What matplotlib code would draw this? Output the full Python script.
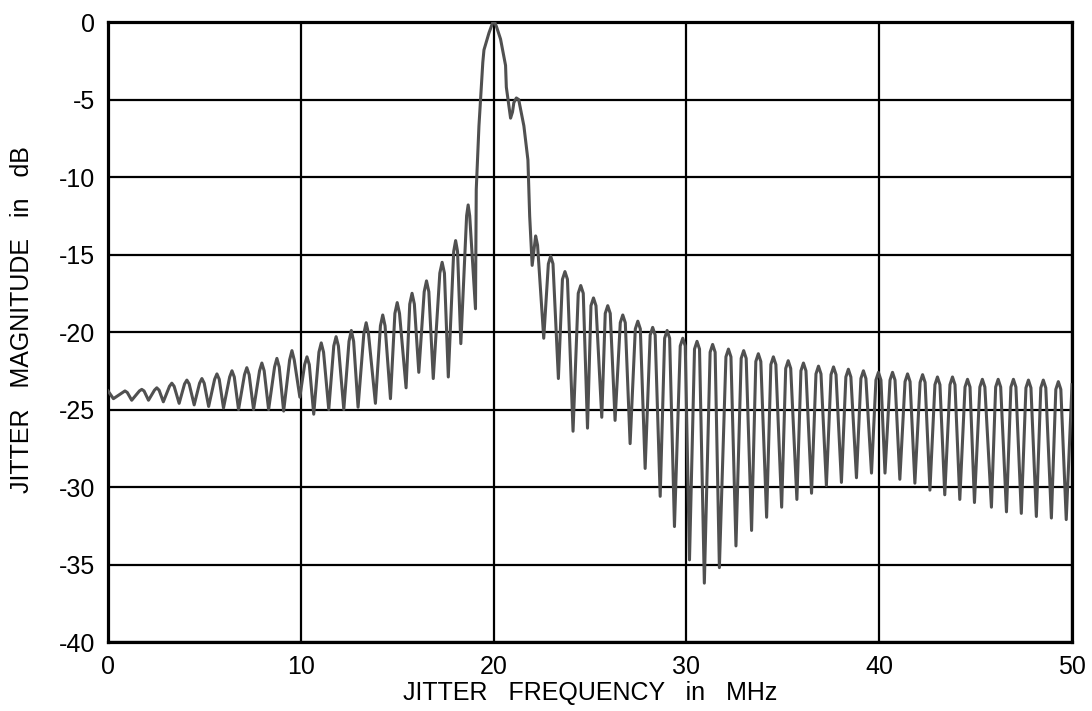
import numpy as np
import matplotlib
matplotlib.use("Agg")
import matplotlib.pyplot as plt

# jitter spectrum, below the main lobe (MHz, dB)
low_f = [0.00, 0.28,
         0.76, 0.88, 1.00, 1.23,
         1.63, 1.75, 1.87, 2.10,
         2.41, 2.53, 2.65, 2.87,
         3.19, 3.31, 3.43, 3.69,
         3.97, 4.09, 4.21, 4.47,
         4.75, 4.87, 4.99, 5.22,
         5.53, 5.65, 5.77, 5.99,
         6.31, 6.43, 6.55, 6.77,
         7.08, 7.20, 7.32, 7.55,
         7.86, 7.98, 8.10, 8.33,
         8.64, 8.76, 8.88, 9.11,
         9.42, 9.54, 9.66, 9.95,
         10.20, 10.32, 10.44, 10.67,
         10.94, 11.06, 11.18, 11.45,
         11.71, 11.83, 11.95, 12.23,
         12.50, 12.62, 12.74, 12.97,
         13.27, 13.39, 13.51, 13.87,
         14.13, 14.25, 14.37, 14.65,
         14.88, 15.00, 15.12, 15.46,
         15.65, 15.77, 15.89, 16.12,
         16.40, 16.52, 16.64, 16.87,
         17.21, 17.33, 17.45, 17.65,
         17.93, 18.03, 18.13, 18.30,
         18.60, 18.68, 18.76, 19.06]
low_db = [-23.8, -24.3,
          -23.9, -23.8, -23.9, -24.4,
          -23.8, -23.7, -23.8, -24.4,
          -23.75, -23.6, -23.75, -24.5,
          -23.5, -23.3, -23.5, -24.6,
          -23.35, -23.1, -23.35, -24.7,
          -23.3, -23.0, -23.3, -24.8,
          -23.05, -22.7, -23.05, -24.9,
          -22.9, -22.5, -22.9, -25.0,
          -22.75, -22.3, -22.75, -25.0,
          -22.5, -22.0, -22.5, -25.0,
          -22.25, -21.7, -22.25, -25.1,
          -21.8, -21.2, -21.8, -24.2,
          -22.1, -21.6, -22.1, -25.3,
          -21.3, -20.7, -21.3, -25.0,
          -20.9, -20.3, -20.9, -25.0,
          -20.6, -19.9, -20.6, -24.85,
          -20.1, -19.4, -20.1, -24.6,
          -19.6, -18.9, -19.6, -24.3,
          -18.8, -18.1, -18.8, -23.6,
          -18.2, -17.5, -18.2, -22.6,
          -17.4, -16.7, -17.4, -23.0,
          -16.2, -15.5, -16.2, -22.9,
          -14.8, -14.1, -14.8, -20.75,
          -12.5, -11.8, -12.5, -18.5]

# main lobe around 20 MHz
main_f = [19.10, 19.24, 19.44, 19.50, 19.76, 19.95, 20.05, 20.15, 20.36,
          20.62, 20.66, 20.88, 20.98, 21.05, 21.18, 21.30, 21.57, 21.78,
          21.87, 22.00, 22.18, 22.28]
main_db = [-10.8, -6.7, -2.6, -1.8, -0.7, -0.05, 0.0, -0.3, -1.1,
           -2.8, -4.2, -6.2, -5.8, -5.2, -4.9, -5.0, -6.7, -8.9,
           -12.5, -15.7, -13.8, -14.4]

# above the main lobe
high_f = [22.60, 22.84, 22.96, 23.08,
          23.36, 23.57, 23.70, 23.83,
          24.12, 24.39, 24.52, 24.65,
          24.87, 25.05, 25.18, 25.31,
          25.61, 25.79, 25.92, 26.05,
          26.30, 26.57, 26.70, 26.83,
          27.08, 27.35, 27.48, 27.61,
          27.86, 28.12, 28.25, 28.38,
          28.64, 28.87, 29.00, 29.13,
          29.38, 29.68, 29.81, 29.94,
          30.16, 30.42, 30.55, 30.68,
          30.93, 31.23, 31.36, 31.49,
          31.71, 32.05, 32.18, 32.31,
          32.57, 32.84, 32.97, 33.10,
          33.38, 33.60, 33.73, 33.86,
          34.16, 34.38, 34.51, 34.64,
          34.94, 35.15, 35.28, 35.41,
          35.73, 35.94, 36.07, 36.20,
          36.49, 36.72, 36.85, 36.98,
          37.26, 37.50, 37.63, 37.76,
          38.04, 38.27, 38.40, 38.53,
          38.82, 39.05, 39.18, 39.31,
          39.60, 39.83, 39.96, 40.09,
          40.30, 40.56, 40.69, 40.82,
          41.07, 41.34, 41.47, 41.60,
          41.85, 42.12, 42.25, 42.38,
          42.63, 42.89, 43.02, 43.15,
          43.40, 43.67, 43.80, 43.93,
          44.18, 44.45, 44.58, 44.71,
          44.94, 45.22, 45.35, 45.48,
          45.82, 46.04, 46.17, 46.30,
          46.60, 46.83, 46.96, 47.09,
          47.37, 47.61, 47.74, 47.87,
          48.15, 48.38, 48.51, 48.64,
          48.93, 49.16, 49.29, 49.42,
          49.70, 50.00]
high_db = [-20.4, -15.6, -15.1, -15.6,
           -23.0, -16.6, -16.1, -16.6,
           -26.4, -17.5, -17.0, -17.5,
           -26.2, -18.3, -17.8, -18.3,
           -25.5, -18.8, -18.3, -18.8,
           -25.7, -19.4, -18.9, -19.4,
           -27.2, -19.8, -19.3, -19.8,
           -28.8, -20.2, -19.7, -20.2,
           -30.6, -20.4, -19.9, -20.4,
           -32.55, -20.9, -20.4, -20.9,
           -34.7, -21.1, -20.6, -21.1,
           -36.2, -21.3, -20.8, -21.3,
           -35.2, -21.6, -21.1, -21.6,
           -33.8, -21.7, -21.2, -21.7,
           -32.8, -21.9, -21.4, -21.9,
           -31.95, -22.1, -21.6, -22.1,
           -31.3, -22.35, -21.85, -22.35,
           -30.8, -22.5, -22.0, -22.5,
           -30.4, -22.7, -22.2, -22.7,
           -29.9, -22.75, -22.25, -22.75,
           -29.7, -22.9, -22.4, -22.9,
           -29.4, -23.0, -22.5, -23.0,
           -29.1, -23.1, -22.6, -23.1,
           -29.1, -23.1, -22.6, -23.1,
           -29.5, -23.2, -22.7, -23.2,
           -29.75, -23.25, -22.75, -23.25,
           -30.2, -23.4, -22.9, -23.4,
           -30.5, -23.4, -22.9, -23.4,
           -30.8, -23.55, -23.05, -23.55,
           -31.0, -23.55, -23.05, -23.55,
           -31.3, -23.55, -23.05, -23.55,
           -31.6, -23.55, -23.05, -23.55,
           -31.7, -23.6, -23.1, -23.6,
           -31.9, -23.6, -23.1, -23.6,
           -32.0, -23.7, -23.2, -23.7,
           -32.1, -23.4]

x_ticks = [0, 10, 20, 30, 40, 50]
y_ticks = [0, -5, -10, -15, -20, -25, -30, -35, -40]

plt.rcParams['font.family'] = ['Liberation Sans', 'DejaVu Sans']
plt.rcParams['axes.unicode_minus'] = False

freq = np.concatenate([low_f, main_f, high_f])
mag = np.concatenate([low_db, main_db, high_db])

fig = plt.figure(figsize=(10.92, 7.11), dpi=100)
ax = fig.add_axes([0.0989, 0.097, 0.8828, 0.872])

ax.plot(freq, mag, color='#505050', lw=2.2, solid_joinstyle='round', zorder=3)

ax.set_xlim(0, 50)
ax.set_ylim(-40, 0)
ax.set_xticks(x_ticks)
ax.set_yticks(y_ticks)
ax.grid(True, color='black', lw=1.6)
ax.set_axisbelow(True)
for s in ax.spines.values():
    s.set_linewidth(2.3)
    s.set_color('black')
ax.tick_params(length=0, labelsize=18, pad=9)

ax.set_xlabel('JITTER   FREQUENCY   in   MHz', fontsize=18, labelpad=2)
ax.set_ylabel('JITTER   MAGNITUDE   in   dB', fontsize=18)
ax.yaxis.set_label_coords(-0.077, 0.52)

fig.savefig('out.png', dpi=100)
